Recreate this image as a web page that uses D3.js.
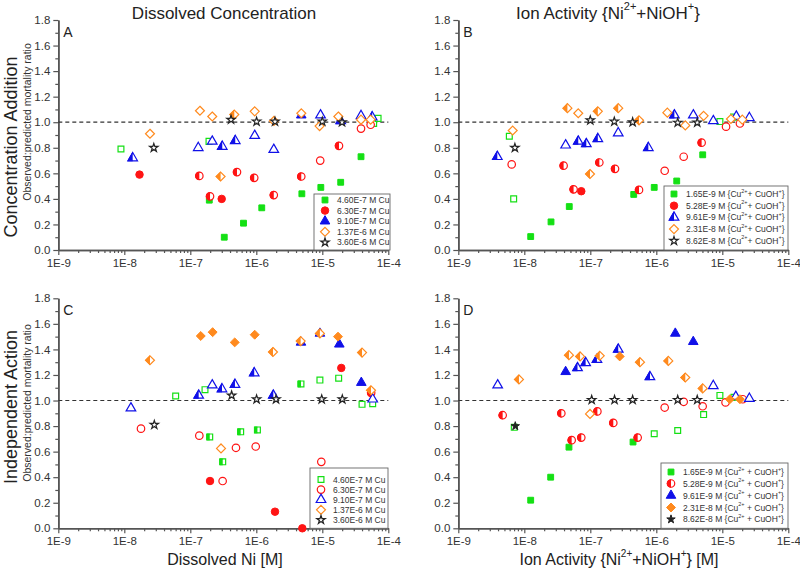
<!DOCTYPE html>
<html>
<head>
<meta charset="utf-8">
<script src="https://cdn.jsdelivr.net/npm/d3@7/dist/d3.min.js"></script>
<style>
  body { margin: 0; background: #fff; }
  text { font-family: Arial, "Liberation Sans", sans-serif; }
</style>
</head>
<body>
<svg id="chart" width="800" height="569"></svg>
<script>
// ---- data: [x, ratio, fill]  f = filled, o = open, h = left half filled
var decades = [1e-9, 1e-8, 1e-7, 1e-6, 1e-5, 1e-4];
var yTicks = [0, 0.2, 0.4, 0.6, 0.8, 1.0, 1.2, 1.4, 1.6, 1.8];
var cuTotal = ["4.60E-7", "6.30E-7", "9.10E-7", "1.37E-6", "3.60E-6"];
var cuIon = ["1.65E-9", "5.28E-9", "9.61E-9", "2.31E-8", "8.62E-8"];

var aGreen = [[8.9e-9,0.79,"o"],[1.92e-7,0.85,"o"],[1.94e-7,0.39,"f"],[3.27e-7,0.10,"f"],[6.4e-7,0.21,"f"],[1.21e-6,0.33,"f"],[4.9e-6,0.44,"f"],[9.5e-6,0.49,"f"],[1.9e-5,0.53,"f"],[3.86e-5,0.73,"f"],[6.0e-5,0.99,"o"],[7.0e-5,1.03,"o"]];
var aRed = [[1.7e-8,0.59,"f"],[1.37e-7,0.58,"h"],[1.99e-7,0.42,"h"],[2.99e-7,0.40,"f"],[5.1e-7,0.61,"h"],[9.3e-7,0.565,"h"],[1.84e-6,0.43,"h"],[4.8e-6,0.575,"h"],[9.3e-6,0.70,"o"],[1.79e-5,0.815,"h"],[3.86e-5,0.95,"o"],[5.4e-5,0.98,"o"]];
var aBlue = [[1.34e-8,0.72,"h"],[1.32e-7,0.80,"o"],[2.15e-7,0.85,"o"],[3.05e-7,0.81,"h"],[4.8e-7,0.855,"h"],[9.46e-7,0.895,"o"],[1.84e-6,0.785,"o"],[4.8e-6,1.055,"f"],[9.4e-6,1.055,"o"],[1.9e-5,1.01,"h"],[3.86e-5,1.05,"o"],[5.7e-5,1.04,"h"]];
var aOrange = [[2.45e-8,0.91,"o"],[1.4e-7,1.09,"o"],[2.15e-7,1.045,"o"],[2.88e-7,0.575,"h"],[4.64e-7,1.06,"h"],[9.46e-7,1.085,"o"],[1.85e-6,1.01,"o"],[4.81e-6,1.07,"o"],[9.1e-6,0.97,"o"],[1.75e-5,1.045,"o"],[3.86e-5,1.02,"o"],[5.4e-5,1.02,"o"]];
var aStar = [[2.8e-8,0.80,"o"],[4.14e-7,1.02,"o"],[1.01e-6,1.005,"o"],[1.92e-6,1.005,"o"],[1.0e-5,1.005,"o"],[1.99e-5,1.0,"o"]];

var bGreen = [[5.93e-9,0.89,"o"],[6.9e-9,0.40,"o"],[1.25e-8,0.105,"f"],[2.54e-8,0.22,"f"],[4.8e-8,0.34,"f"],[4.55e-7,0.435,"f"],[9.3e-7,0.49,"f"],[2.04e-6,0.54,"f"],[5.05e-6,0.745,"f"],[9.2e-6,1.005,"o"],[1.48e-5,1.04,"o"]];
var bRed = [[6.44e-9,0.67,"o"],[3.94e-8,0.66,"h"],[5.58e-8,0.475,"h"],[7.3e-8,0.46,"f"],[1.37e-7,0.685,"h"],[2.37e-7,0.635,"h"],[5.47e-7,0.47,"h"],[1.34e-6,0.62,"o"],[2.6e-6,0.73,"o"],[4.86e-6,0.84,"h"],[1.14e-5,0.965,"o"],[1.85e-5,0.99,"o"]];
var bBlue = [[3.9e-9,0.73,"h"],[4.23e-8,0.82,"o"],[6.57e-8,0.85,"h"],[8.7e-8,0.83,"h"],[1.3e-7,0.87,"h"],[2.65e-7,0.915,"o"],[7.57e-7,0.80,"h"],[1.88e-6,1.055,"h"],[3.64e-6,1.055,"o"],[7.31e-6,1.01,"o"],[1.63e-5,1.045,"o"],[2.57e-5,1.035,"o"]];
var bOrange = [[6.67e-9,0.935,"o"],[4.5e-8,1.11,"h"],[6.57e-8,1.07,"o"],[9.9e-8,0.595,"h"],[1.3e-7,1.085,"h"],[2.65e-7,1.11,"h"],[5.47e-7,1.015,"h"],[1.47e-6,1.075,"o"],[2.75e-6,0.975,"o"],[5.21e-6,1.05,"o"],[1.35e-5,1.025,"o"],[2.01e-5,1.02,"o"]];
var bStar = [[7.2e-9,0.80,"o"],[1.0e-7,1.015,"o"],[2.31e-7,1.005,"o"],[4.38e-7,1.0,"o"],[2.11e-6,0.997,"o"],[4.17e-6,0.998,"o"]];

var cGreen = [[6.0e-8,1.035,"o"],[1.67e-7,1.085,"o"],[1.97e-7,0.715,"h"],[3.1e-7,0.52,"h"],[5.8e-7,0.755,"h"],[1.04e-6,0.77,"h"],[4.75e-6,1.13,"h"],[9.2e-6,1.16,"o"],[1.77e-5,1.175,"o"],[4.0e-5,0.97,"o"],[5.8e-5,0.975,"o"]];
var cRed = [[1.79e-8,0.78,"o"],[1.37e-7,0.725,"o"],[1.99e-7,0.37,"f"],[3.09e-7,0.37,"o"],[4.92e-7,0.63,"o"],[9.8e-7,0.64,"o"],[1.92e-6,0.13,"f"],[4.98e-6,0.0,"f"],[9.66e-6,0.52,"o"],[1.94e-5,1.255,"f"],[5.5e-5,1.06,"h"]];
var cBlue = [[1.26e-8,0.94,"o"],[1.34e-7,1.04,"h"],[2.15e-7,1.12,"o"],[3.02e-7,1.09,"h"],[4.75e-7,1.125,"h"],[9.3e-7,1.215,"h"],[1.81e-6,1.04,"h"],[4.75e-6,1.455,"f"],[9.2e-6,1.525,"f"],[1.81e-5,1.44,"f"],[3.9e-5,1.14,"f"],[5.8e-5,1.01,"o"]];
var cOrange = [[2.45e-8,1.315,"h"],[1.44e-7,1.505,"f"],[2.18e-7,1.535,"f"],[2.92e-7,0.625,"o"],[4.71e-7,1.455,"f"],[9.46e-7,1.515,"f"],[1.79e-6,1.38,"h"],[4.7e-6,1.465,"h"],[9.2e-6,1.525,"h"],[1.73e-5,1.50,"f"],[4.0e-5,1.375,"h"],[5.47e-5,1.08,"h"]];
var cStar = [[2.85e-8,0.81,"o"],[4.23e-7,1.04,"o"],[1.01e-6,1.01,"o"],[1.99e-6,1.01,"o"],[9.8e-6,1.01,"o"],[2.01e-5,1.01,"o"]];

var dGreen = [[7.05e-9,0.79,"o"],[1.25e-8,0.22,"f"],[2.51e-8,0.40,"f"],[4.75e-8,0.635,"f"],[4.44e-7,0.675,"f"],[9.3e-7,0.74,"o"],[2.11e-6,0.765,"o"],[5.21e-6,0.89,"o"],[9.2e-6,1.04,"o"],[1.5e-5,1.025,"o"]];
var dRed = [[4.7e-9,0.885,"h"],[3.64e-8,0.90,"h"],[5.22e-8,0.69,"h"],[7.3e-8,0.71,"h"],[1.28e-7,0.915,"h"],[2.23e-7,0.825,"h"],[5.22e-7,0.71,"h"],[1.34e-6,0.945,"o"],[2.6e-6,0.99,"o"],[5.04e-6,0.955,"o"],[1.12e-5,0.985,"o"],[2.04e-5,1.01,"o"]];
var dBlue = [[3.95e-9,1.12,"o"],[4.23e-8,1.225,"f"],[6.4e-8,1.255,"h"],[8.5e-8,1.295,"h"],[1.26e-7,1.32,"h"],[2.65e-7,1.40,"h"],[8.0e-7,1.185,"h"],[1.94e-6,1.525,"f"],[3.63e-6,1.46,"f"],[7.3e-6,1.115,"o"],[1.6e-5,1.03,"o"],[2.57e-5,1.015,"o"]];
var dOrange = [[8.3e-9,1.165,"h"],[4.75e-8,1.355,"h"],[7.0e-8,1.345,"h"],[9.9e-8,0.895,"o"],[1.39e-7,1.35,"h"],[2.79e-7,1.345,"f"],[5.66e-7,1.30,"h"],[1.52e-6,1.31,"h"],[2.75e-6,1.18,"h"],[5.05e-6,1.095,"h"],[1.3e-5,1.01,"f"],[1.85e-5,1.01,"f"]];
var dStar = [[7.3e-9,0.80,"f"],[1.05e-7,1.005,"o"],[2.33e-7,1.005,"o"],[4.38e-7,1.005,"o"],[2.11e-6,1.005,"o"],[4.17e-6,1.005,"o"]];

// legend marker fill per panel
var legFillA = ["f","f","f","o","o"];
var legFillB = ["f","f","h","o","o"];
var legFillC = ["o","o","o","o","o"];
var legFillD = ["f","h","f","f","f"];

var colors = ["#14e014", "#ff1414", "#1010e8", "#ff8a1e", "#222222"];

var diamond = {
  draw: function(ctx, size) {
    var r = Math.sqrt(size / 2);
    ctx.moveTo(0, -r); ctx.lineTo(r, 0); ctx.lineTo(0, r); ctx.lineTo(-r, 0); ctx.closePath();
  }
};
var shapes = [d3.symbolSquare, d3.symbolCircle, d3.symbolTriangle, diamond, d3.symbolStar];
var sizes = [34, 44, 40, 40, 22];

var svg = d3.select("#chart");
svg.append("defs").append("clipPath").attr("id", "leftHalf")
  .append("rect").attr("x", -10).attr("y", -10).attr("width", 10).attr("height", 20);

function drawMarker(g, i, fill) {
  var p = d3.symbol(shapes[i], sizes[i])();
  var c = colors[i];
  if (fill == "f") {
    g.append("path").attr("d", p).attr("fill", c).attr("stroke", c).attr("stroke-width", 1);
  } else {
    g.append("path").attr("d", p).attr("fill", "#fff").attr("stroke", c).attr("stroke-width", 1.2);
    if (fill == "h") {
      g.append("path").attr("d", p).attr("fill", c).attr("stroke", c).attr("stroke-width", 1)
        .attr("clip-path", "url(#leftHalf)");
    }
  }
}

function supText(t, parts, supSize) {
  // parts: [text, isSup]
  parts.forEach(function(p, k) {
    var ts = t.append("tspan").text(p[0]);
    if (p[1]) ts.attr("font-size", supSize).attr("dy", -supSize * 0.8);
    else if (k > 0 && parts[k - 1][1]) ts.attr("dy", supSize * 0.8);
  });
}

var panels = [
  {x0: 58.3, y0: 20, letter: "A", series: [aGreen, aRed, aBlue, aOrange, aStar], labels: cuTotal, legFill: legFillA, ion: false,
   leg: {x: 314, y: 194, w: 76, rows: [200, 210.6, 221.2, 231.8, 242.4]}},
  {x0: 458.3, y0: 20, letter: "B", series: [bGreen, bRed, bBlue, bOrange, bStar], labels: cuIon, legFill: legFillB, ion: true, sp: "",
   leg: {x: 664, y: 186, w: 124, rows: [194, 205.7, 217.4, 229.1, 240.8]}},
  {x0: 58.3, y0: 298.3, letter: "C", series: [cGreen, cRed, cBlue, cOrange, cStar], labels: cuTotal, legFill: legFillC, ion: false,
   leg: {x: 310, y: 468, w: 78, rows: [479.5, 489.6, 499.7, 509.8, 519.9]}},
  {x0: 458.3, y0: 298.3, letter: "D", series: [dGreen, dRed, dBlue, dOrange, dStar], labels: cuIon, legFill: legFillD, ion: true, sp: " ",
   leg: {x: 661, y: 463, w: 127, rows: [472, 483.5, 495.5, 507.5, 519.3]}}
];

var plotW = 330, plotH = 230;
var minorX = [];
decades.slice(0, 5).forEach(function(d) { for (var k = 2; k <= 9; k++) minorX.push(k * d); });
var minorY = [0.1, 0.3, 0.5, 0.7, 0.9, 1.1, 1.3, 1.5, 1.7];

panels.forEach(function(pn) {
  var x = d3.scaleLog().domain([1e-9, 1e-4]).range([pn.x0, pn.x0 + plotW]);
  var y = d3.scaleLinear().domain([0, 1.8]).range([pn.y0 + plotH, pn.y0]);
  var g = svg.append("g");

  // axes
  g.append("g").attr("transform", "translate(0," + (pn.y0 + plotH) + ")")
    .call(d3.axisBottom(x).tickValues(decades).tickSize(5).tickSizeOuter(0).tickPadding(4)
      .tickFormat(function(d) { return "1E" + Math.round(Math.log10(d)); }));
  g.append("g").attr("transform", "translate(0," + (pn.y0 + plotH) + ")")
    .call(d3.axisBottom(x).tickValues(minorX).tickSize(3).tickSizeOuter(0).tickFormat(""));
  g.append("g").attr("transform", "translate(" + pn.x0 + ",0)")
    .call(d3.axisLeft(y).tickValues(yTicks).tickSize(5).tickSizeOuter(0).tickPadding(3)
      .tickFormat(d3.format(".1f")));
  g.append("g").attr("transform", "translate(" + pn.x0 + ",0)")
    .call(d3.axisLeft(y).tickValues(minorY).tickSize(3).tickSizeOuter(0).tickFormat(""));
  g.selectAll(".domain").attr("stroke", "#555").attr("stroke-width", 1.6);
  g.selectAll(".tick line").attr("stroke", "#555").attr("stroke-width", 1.2);
  g.selectAll(".tick text").attr("font-size", 11.5).attr("fill", "#333")
    .attr("font-family", "Arial, 'Liberation Sans', sans-serif");

  // reference line at ratio 1
  g.append("line").attr("x1", x(1e-9)).attr("x2", x(1e-4)).attr("y1", y(1)).attr("y2", y(1))
    .attr("stroke", "#333").attr("stroke-width", 1.2).attr("stroke-dasharray", "4,3");

  // points
  pn.series.forEach(function(s, i) {
    s.forEach(function(d) {
      var mg = g.append("g").attr("transform", "translate(" + x(d[0]) + "," + y(d[1]) + ")");
      drawMarker(mg, i, d[2]);
    });
  });

  // panel letter
  g.append("text").attr("x", pn.x0 + 5).attr("y", pn.y0 + 17).attr("font-size", 14).attr("fill", "#222").text(pn.letter);

  // legend
  var L = pn.leg;
  g.append("rect").attr("x", L.x).attr("y", L.y).attr("width", L.w).attr("height", pn.y0 + plotH - L.y)
    .attr("fill", "#fff").attr("stroke", "#666").attr("stroke-width", 0.9);
  pn.labels.forEach(function(lab, i) {
    var mx = L.x + (pn.ion ? 10 : 11);
    var lg = g.append("g").attr("transform", "translate(" + mx + "," + L.rows[i] + ")");
    drawMarker(lg, i, pn.legFill[i]);
    var t = g.append("text").attr("x", mx + 12).attr("y", L.rows[i] + 3)
      .attr("font-size", 8.5).attr("fill", "#333");
    if (pn.ion) {
      supText(t, [[lab + " M {Cu", false], ["2+", true], [pn.sp + "+ CuOH", false], ["+", true], ["}", false]], 5.5);
    } else {
      t.text(lab + " M Cu");
    }
  });
});

// titles
svg.append("text").attr("x", 224).attr("y", 19).attr("text-anchor", "middle").attr("font-size", 17)
  .attr("fill", "#222").text("Dissolved Concentration");
var t2 = svg.append("text").attr("x", 608).attr("y", 19).attr("text-anchor", "middle").attr("font-size", 17).attr("fill", "#222");
supText(t2, [["Ion Activity {Ni", false], ["2+", true], ["+NiOH", false], ["+", true], ["}", false]], 11);

// x labels
svg.append("text").attr("x", 225).attr("y", 565).attr("text-anchor", "middle").attr("font-size", 16)
  .attr("fill", "#222").text("Dissolved Ni [M]");
var t3 = svg.append("text").attr("x", 619).attr("y", 565).attr("text-anchor", "middle").attr("font-size", 16).attr("fill", "#222");
supText(t3, [["Ion Activity {Ni", false], ["2+", true], ["+NiOH", false], ["+", true], ["} [M]", false]], 10);

// row labels
[["Concentration Addition", 147], ["Independent Action", 407]].forEach(function(r, i) {
  svg.append("text").attr("transform", "translate(17," + r[1] + ") rotate(-90)").attr("text-anchor", "middle")
    .attr("font-size", 18).attr("fill", "#222").text(r[0]);
  svg.append("text").attr("transform", "translate(31," + (i == 0 ? 122 : 403) + ") rotate(-90)").attr("text-anchor", "middle")
    .attr("font-size", 10.5).attr("fill", "#333").text("Observed:predicted mortality ratio");
});
</script>
</body>
</html>
